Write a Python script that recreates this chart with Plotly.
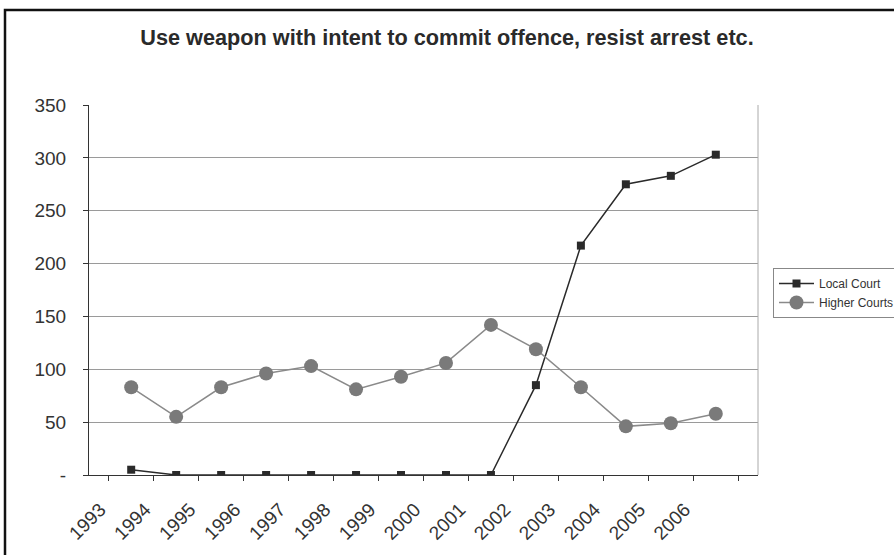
import plotly.graph_objects as go

years = ["1993", "1994", "1995", "1996", "1997", "1998", "1999", "2000",
         "2001", "2002", "2003", "2004", "2005", "2006"]
local_court = [5, 0, 0, 0, 0, 0, 0, 0, 0, 85, 217, 275, 283, 303]
higher_courts = [83, 55, 83, 96, 103, 81, 93, 106, 142, 119, 83, 46, 49, 58]
y_ticks = [0, 50, 100, 150, 200, 250, 300, 350]
y_ticktext = ["-", "50", "100", "150", "200", "250", "300", "350"]

W, H = 894, 555
L, R, T, B = 89, 758, 105, 475

fig = go.Figure()
fig.add_trace(go.Scatter(
    x=years, y=local_court, name="Local Court", mode="lines+markers",
    line=dict(color="#2a2a2a", width=1.5),
    marker=dict(symbol="square", size=8, color="#2a2a2a"),
))
fig.add_trace(go.Scatter(
    x=years, y=higher_courts, name="Higher Courts", mode="lines+markers",
    line=dict(color="#8a8a8a", width=1.5),
    marker=dict(symbol="circle", size=14, color="#7a7a7a"),
))

def px_x(p):
    return (p - L) / (R - L)

def px_y(p):
    return (B - p) / (B - T)

fig.update_layout(
    width=W, height=H,
    margin=dict(l=L, r=W - R, t=T, b=H - B, pad=0, autoexpand=False),
    paper_bgcolor="white", plot_bgcolor="white",
    font=dict(family="Liberation Sans, Arial, sans-serif", color="#333333"),
    title=dict(text="<b>Use weapon with intent to commit offence, resist arrest etc.</b>",
               x=0.5, xanchor="center", y=1 - 37 / H, yanchor="middle",
               font=dict(size=21.7, color="#2a2a2a")),
    xaxis=dict(
        type="category", tickson="boundaries", ticks="outside", ticklen=5,
        tickcolor="#333333", showline=True, linecolor="#333333", linewidth=1,
        showgrid=False, tickangle=-45, tickfont=dict(size=19, color="#333333"),
        ticklabelstandoff=15, ticklabelshift=-31, mirror=False,
    ),
    yaxis=dict(
        range=[0, 350], tickvals=y_ticks, ticktext=y_ticktext,
        ticks="outside", ticklen=5, tickcolor="#333333",
        showline=True, linecolor="#333333", linewidth=1,
        showgrid=True, gridcolor="#9a9a9a", gridwidth=1,
        tickfont=dict(size=19, color="#333333"), zeroline=False,
        ticklabelstandoff=13,
    ),
    legend=dict(
        x=px_x(773), y=px_y(268), xanchor="left", yanchor="top",
        bordercolor="#888888", borderwidth=1, bgcolor="white",
        font=dict(size=12, color="#333333"), tracegroupgap=0,
        itemwidth=35,
    ),
    showlegend=True,
)

# outer chart frame and right plot-area border
fig.add_shape(type="rect", xref="paper", yref="paper",
              x0=px_x(5), x1=px_x(900), y0=px_y(560), y1=px_y(10),
              line=dict(color="#111111", width=2.5), layer="below")
fig.add_shape(type="line", xref="paper", yref="paper",
              x0=1, x1=1, y0=0, y1=1,
              line=dict(color="#aaaaaa", width=1))

fig.write_html("out.html", config={"displayModeBar": False},
               post_script="document.body.style.margin='0px';document.body.style.overflow='hidden';")
